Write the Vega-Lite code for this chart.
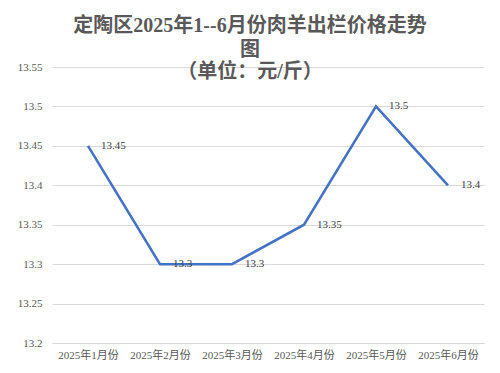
{
  "$schema": "https://vega.github.io/schema/vega-lite/v6.json",
  "width": 432,
  "height": 276,
  "autosize": "none",
  "padding": {"left": 52, "top": 67, "right": 16, "bottom": 30},
  "background": "white",
  "title": {
    "text": ["定陶区2025年1--6月份肉羊出栏价格走势", "图"],
    "subtitle": "（单位：元/斤）",
    "anchor": "middle",
    "frame": "group",
    "dx": -18,
    "offset": -21,
    "font": "Liberation Serif, Noto Sans CJK SC",
    "fontSize": 20,
    "fontWeight": "bold",
    "color": "#595959",
    "lineHeight": 24,
    "subtitleFont": "Liberation Serif, Noto Sans CJK SC",
    "subtitleFontSize": 20,
    "subtitleFontWeight": "bold",
    "subtitleColor": "#595959",
    "subtitlePadding": 2
  },
  "data": {
    "values": [
      {"month": "2025年1月份", "price": 13.45},
      {"month": "2025年2月份", "price": 13.3},
      {"month": "2025年3月份", "price": 13.3},
      {"month": "2025年4月份", "price": 13.35},
      {"month": "2025年5月份", "price": 13.5},
      {"month": "2025年6月份", "price": 13.4}
    ]
  },
  "encoding": {
    "x": {
      "field": "month",
      "type": "ordinal",
      "sort": null,
      "scale": {"type": "point", "padding": 0.5},
      "axis": {
        "title": null,
        "labelAngle": 0,
        "labelFont": "Liberation Serif, Noto Sans CJK SC",
        "labelFontSize": 11,
        "labelColor": "#595959",
        "labelPadding": 6,
        "ticks": false,
        "domain": true,
        "domainColor": "#d9d9d9",
        "grid": false
      }
    },
    "y": {
      "field": "price",
      "type": "quantitative",
      "scale": {"domain": [13.2, 13.55], "zero": false, "nice": false},
      "axis": {
        "title": null,
        "values": [13.2, 13.25, 13.3, 13.35, 13.4, 13.45, 13.5, 13.55],
        "format": "~g",
        "labelFont": "Liberation Serif",
        "labelFontSize": 11,
        "labelColor": "#595959",
        "labelPadding": 10,
        "ticks": false,
        "domain": false,
        "grid": true,
        "gridColor": "#d9d9d9",
        "gridWidth": 1
      }
    }
  },
  "layer": [
    {
      "mark": {"type": "line", "color": "#4472C4", "strokeWidth": 2.5}
    },
    {
      "mark": {
        "type": "text",
        "align": "left",
        "baseline": "middle",
        "dx": 13,
        "font": "Liberation Serif",
        "fontSize": 11,
        "color": "#404040"
      },
      "encoding": {"text": {"field": "price", "type": "quantitative", "format": "~g"}}
    }
  ],
  "config": {"view": {"stroke": null}}
}
